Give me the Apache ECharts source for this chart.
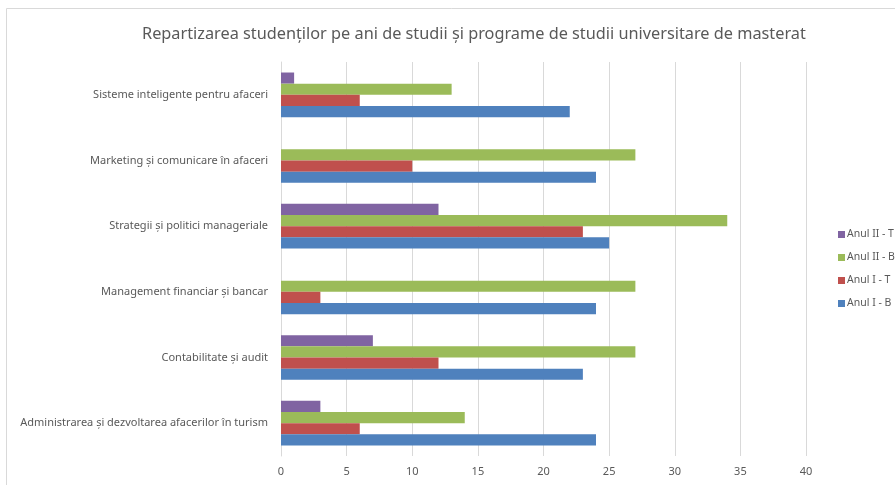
<!DOCTYPE html>
<html>
<head>
<meta charset="utf-8">
<script src="https://cdn.jsdelivr.net/npm/echarts@6/dist/echarts.min.js"></script>
<style>
  html, body { margin: 0; padding: 0; background: #fff; }
  #chart { width: 895px; height: 485px; }
</style>
</head>
<body>
<div id="chart"></div>
<script>
// categories, bottom to top as ECharts draws them
const programe = [
  'Administrarea și dezvoltarea afacerilor în turism',
  'Contabilitate și audit',
  'Management financiar și bancar',
  'Strategii și politici manageriale',
  'Marketing și comunicare în afaceri',
  'Sisteme inteligente pentru afaceri'
]
const anulIB = [24, 23, 24, 25, 24, 22]
const anulIT = [6, 12, 3, 23, 10, 6]
const anulIIB = [14, 27, 27, 34, 27, 13]
const anulIIT = [3, 7, 0, 12, 0, 1]
const xTicks = [0, 5, 10, 15, 20, 25, 30, 35, 40]

const mycharts = echarts.init(document.getElementById('chart'))
const font = 'Noto Sans, sans-serif'

const bar = (name, data, color) => ({
  name,
  type: 'bar',
  data,
  barGap: '0%',
  barCategoryGap: '32%',
  itemStyle: { color },
})

mycharts.setOption({
  animation: false,
  title: {
    text: 'Repartizarea studenților pe ani de studii și programe de studii universitare de masterat',
    left: 137,
    top: 21,
    textStyle: { fontFamily: font, fontSize: 16.3, fontWeight: 'normal', color: '#595959' },
  },
  graphic: [{
    type: 'rect',
    shape: { x: 6.5, y: 8.5, width: 900, height: 500 },
    style: { fill: 'none', stroke: '#d9d9d9', lineWidth: 1 },
    silent: true,
  }],
  legend: {
    orient: 'vertical',
    left: 833,
    top: 224,
    itemWidth: 7,
    itemHeight: 7,
    itemGap: 12,
    icon: 'rect',
    textStyle: { fontFamily: font, fontSize: 10.5, color: '#595959', padding: [0, 0, 0, -3] },
  },
  grid: {
    left: 281,
    right: 89,
    top: 62,
    bottom: 29,
    containLabel: false,
    outerBoundsMode: 'none',
  },
  xAxis: {
    type: 'value',
    min: 0,
    max: 40,
    interval: 5,
    axisLine: { show: false },
    axisTick: { show: false },
    splitLine: { show: true, lineStyle: { color: '#d9d9d9' } },
    axisLabel: {
      margin: 10,
      fontFamily: font,
      fontSize: 11,
      color: '#595959',
      formatter: (v) => xTicks.includes(v) ? String(v) : '',
    },
  },
  yAxis: {
    type: 'category',
    data: programe,
    axisLine: { show: true, lineStyle: { color: '#d9d9d9' } },
    axisTick: { show: false },
    axisLabel: { margin: 13, fontFamily: font, fontSize: 11, color: '#595959' },
  },
  // first series is drawn on top inside each group
  series: [
    bar('Anul II - T', anulIIT, '#8064a2'),
    bar('Anul II - B', anulIIB, '#9bbb59'),
    bar('Anul I - T', anulIT, '#c0504d'),
    bar('Anul I - B', anulIB, '#4f81bd'),
  ],
})
</script>
</body>
</html>
